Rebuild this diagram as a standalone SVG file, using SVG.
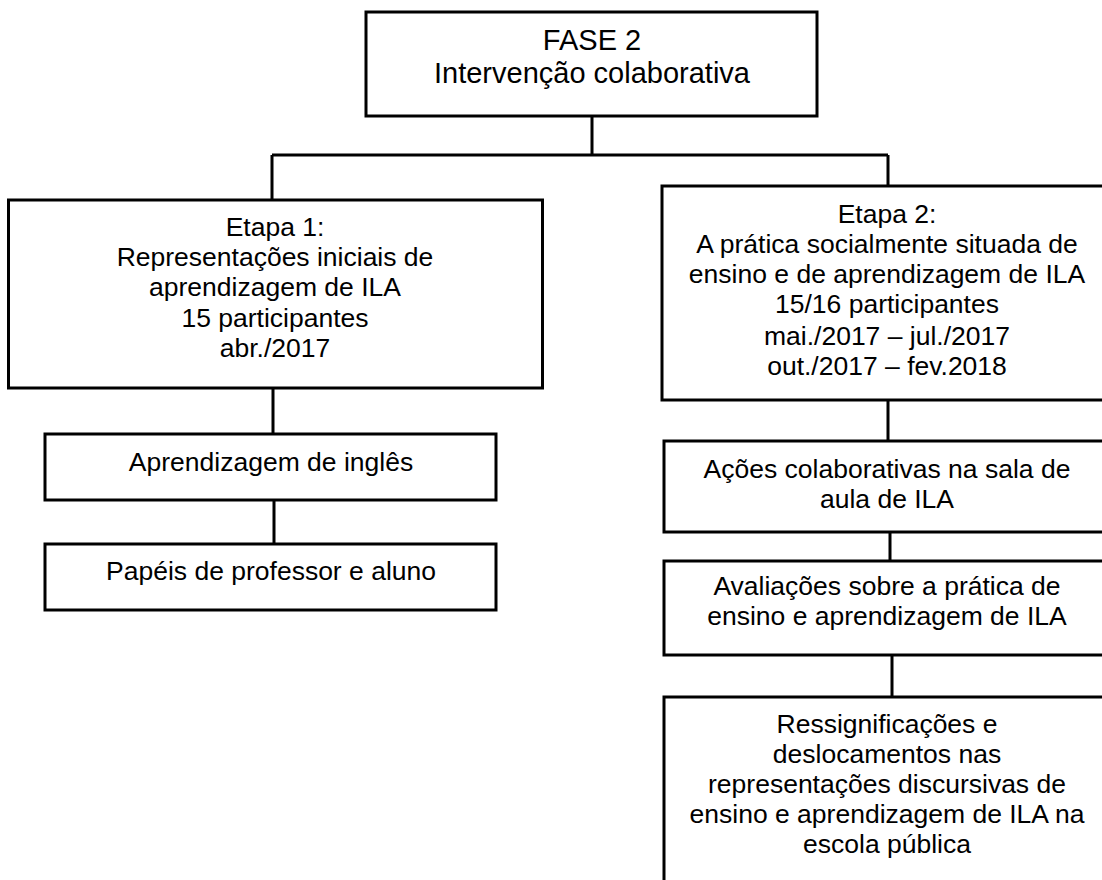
<svg xmlns="http://www.w3.org/2000/svg" width="1102" height="880" viewBox="0 0 1102 880">
<style>
.box{fill:#fff;stroke:#000;stroke-width:3}
.con{fill:none;stroke:#000;stroke-width:3}
text{font-family:"Liberation Sans",Arial,sans-serif;font-size:26.5px;fill:#000;text-anchor:middle}
.big{font-size:29px}
</style>
<rect width="1102" height="880" fill="#fff"/>
<g id="connectors">
<path class="con" d="M592 116V155M272 155H888M272 155V200M888 155V186"/>
<path class="con" d="M273 389V434M274 500V544"/>
<path class="con" d="M888 400V441M890 532V561M892 655V697"/>
</g>
<g id="fase2">
<rect class="box" x="366" y="12" width="451" height="104"/>
<text class="big" x="592" y="50">FASE 2</text>
<text class="big" x="592" y="83">Intervenção colaborativa</text>
</g>
<g id="etapa1">
<rect class="box" x="8.5" y="200" width="534" height="188"/>
<text x="275" y="236">Etapa 1:</text>
<text x="275" y="266">Representações iniciais de</text>
<text x="275" y="296">aprendizagem de ILA</text>
<text x="275" y="327">15 participantes</text>
<text x="275" y="357">abr./2017</text>
</g>
<g id="aprendizagem">
<rect class="box" x="45" y="434" width="451" height="66"/>
<text x="271" y="471">Aprendizagem de inglês</text>
</g>
<g id="papeis">
<rect class="box" x="45" y="544" width="451" height="66"/>
<text x="271" y="580">Papéis de professor e aluno</text>
</g>
<g id="etapa2">
<rect class="box" x="662" y="186" width="460" height="214"/>
<text x="887" y="223">Etapa 2:</text>
<text x="887" y="253">A prática socialmente situada de</text>
<text x="887" y="283">ensino e de aprendizagem de ILA</text>
<text x="887" y="313">15/16 participantes</text>
<text x="887" y="345">mai./2017 – jul./2017</text>
<text x="887" y="375">out./2017 – fev.2018</text>
</g>
<g id="acoes">
<rect class="box" x="664" y="441" width="460" height="91"/>
<text x="887" y="478">Ações colaborativas na sala de</text>
<text x="887" y="508">aula de ILA</text>
</g>
<g id="avaliacoes">
<rect class="box" x="664" y="561" width="460" height="94"/>
<text x="887" y="595">Avaliações sobre a prática de</text>
<text x="887" y="625">ensino e aprendizagem de ILA</text>
</g>
<g id="ressignificacoes">
<rect class="box" x="664" y="697" width="460" height="200"/>
<text x="887" y="733">Ressignificações e</text>
<text x="887" y="763">deslocamentos nas</text>
<text x="887" y="793">representações discursivas de</text>
<text x="887" y="823">ensino e aprendizagem de ILA na</text>
<text x="887" y="853">escola pública</text>
</g>
</svg>
